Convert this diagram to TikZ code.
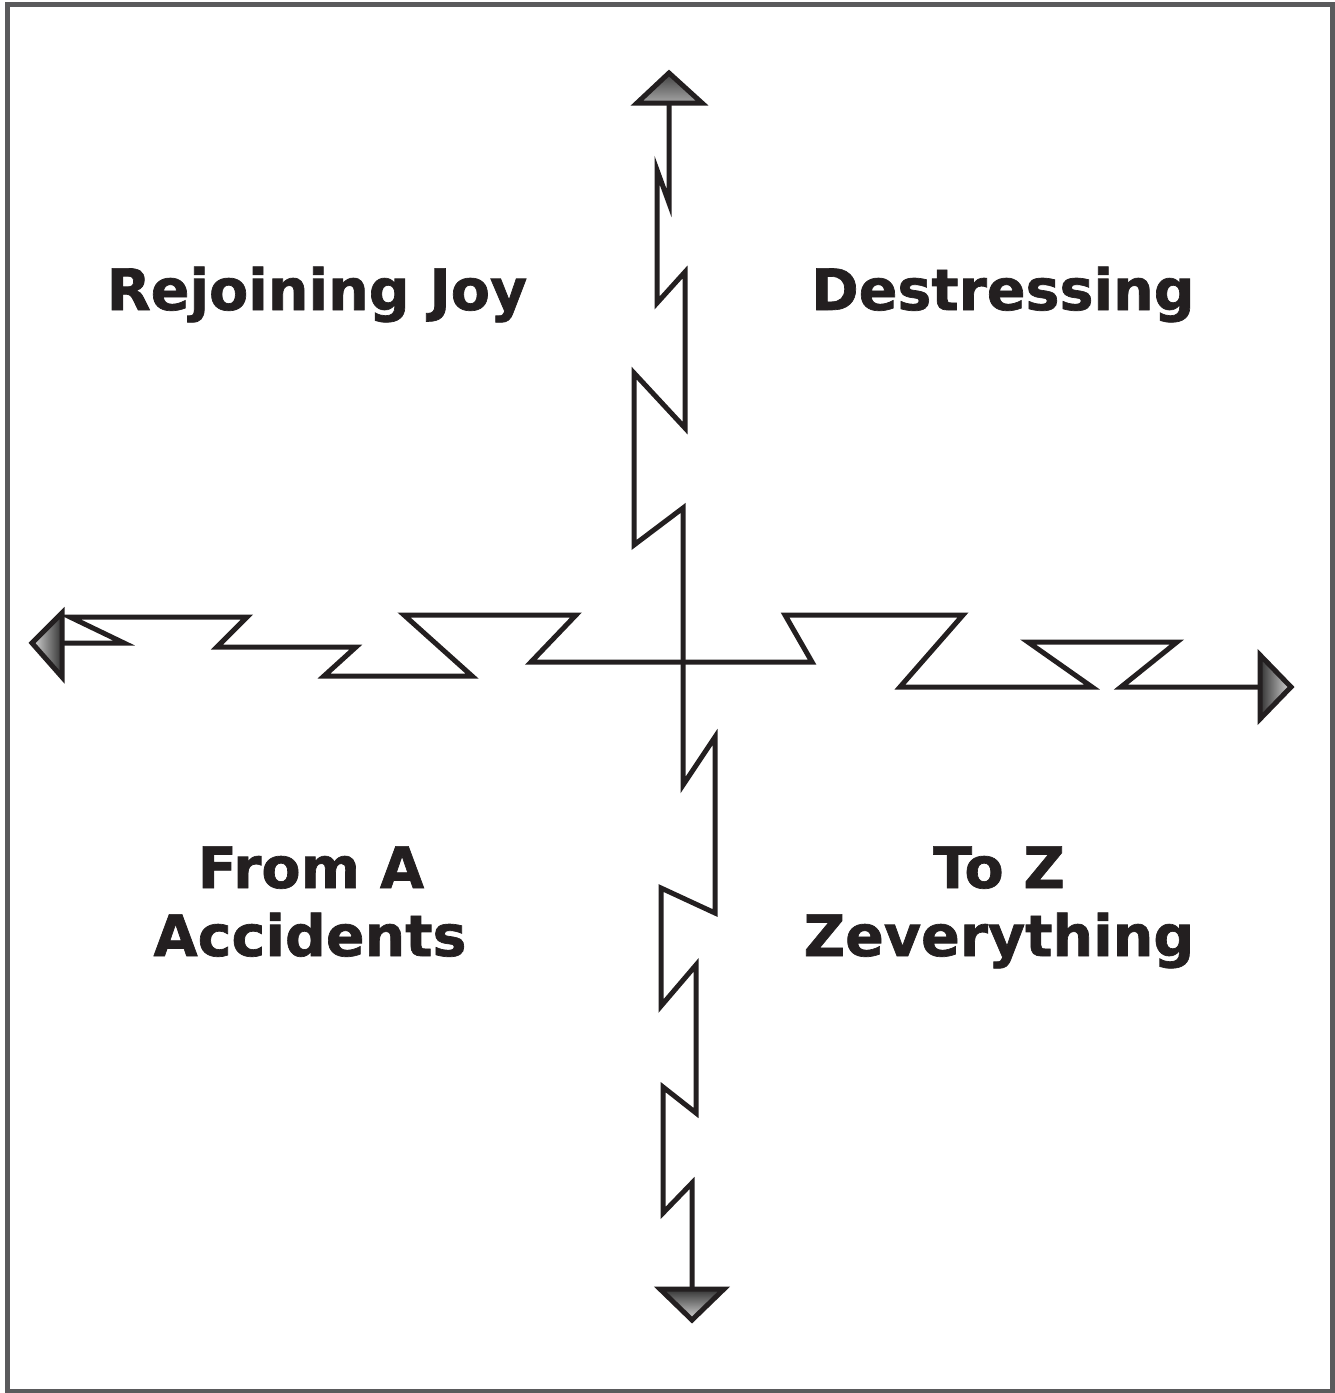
\documentclass[tikz,border=0pt]{standalone}
\usepackage{fontspec}
\setmainfont{DejaVu Sans}
\newfontfamily\lblfont[FakeBold=1.2]{DejaVu Sans Bold}
\begin{document}
\begin{tikzpicture}[x=0.02cm,y=-0.02cm,
  zig/.style={line width=0.1cm, draw={rgb,255:red,35;green,31;blue,32}, line join=miter},
  head/.style={line width=0.1cm, draw={rgb,255:red,35;green,31;blue,32}, line join=miter},
  lbl/.style={font=\lblfont\fontsize{32.5}{36}\selectfont, text={rgb,255:red,35;green,31;blue,32}, inner sep=0pt, anchor=base}]
\useasboundingbox (0,0) rectangle (1335,1393);
\draw[line width=0.1cm, draw={rgb,255:red,90;green,90;blue,92}] (7.5,4.5) rectangle (1332.5,1391);

% vertical zigzag
\coordinate (vtop) at (669,103);
\coordinate (vbot) at (692,1288);
\draw[zig] (vtop) -- (669,203) -- (657,170) -- (657,303) -- (685,272) -- (685,428)
  -- (634,373) -- (634,545) -- (683,508) -- (683,785) -- (715,737) -- (715,913)
  -- (661,888) -- (661,1006) -- (696,965) -- (696,1113) -- (663,1087) -- (663,1213)
  -- (692,1183) -- (vbot);

% horizontal zigzag
\coordinate (hleft) at (62,643);
\coordinate (hright) at (1260,687);
\draw[zig] (hleft) -- (124,643) -- (70,617) -- (247,617) -- (217,647) -- (356,647)
  -- (324,676) -- (472,676) -- (404,615) -- (576,615) -- (531,662) -- (812,662)
  -- (785,615) -- (963,615) -- (900,687) -- (1092,687) -- (1028,642) -- (1177,642)
  -- (1121,687) -- (hright);

% arrowheads
\shade[top color=black!75, bottom color=black!35] (669,73) -- (702,103) -- (637,103) -- cycle;
\draw[head] (669,73) -- (702,103) -- (637,103) -- cycle;
\shade[top color=black!80, bottom color=black!15] (660,1289) -- (724,1289) -- (692,1320) -- cycle;
\draw[head] (660,1289) -- (724,1289) -- (692,1320) -- cycle;
\shade[left color=black!15, right color=black!80] (32,643) -- (62,613) -- (62,677) -- cycle;
\draw[head] (32,643) -- (62,613) -- (62,677) -- cycle;
\shade[left color=black!80, right color=black!15] (1260,655) -- (1291,687) -- (1260,719) -- cycle;
\draw[head] (1260,655) -- (1291,687) -- (1260,719) -- cycle;

% labels
\node[lbl] (rj) at (317,310) {Rejoining Joy};
\node[lbl] (ds) at (1003,310) {Destressing};
\node[lbl] (fa) at (311,888) {From A};
\node[lbl] (ac) at (310,956) {Accidents};
\node[lbl] (tz) at (999,888) {To Z};
\node[lbl] (ze) at (999,956) {Zeverything};
\end{tikzpicture}
\end{document}
